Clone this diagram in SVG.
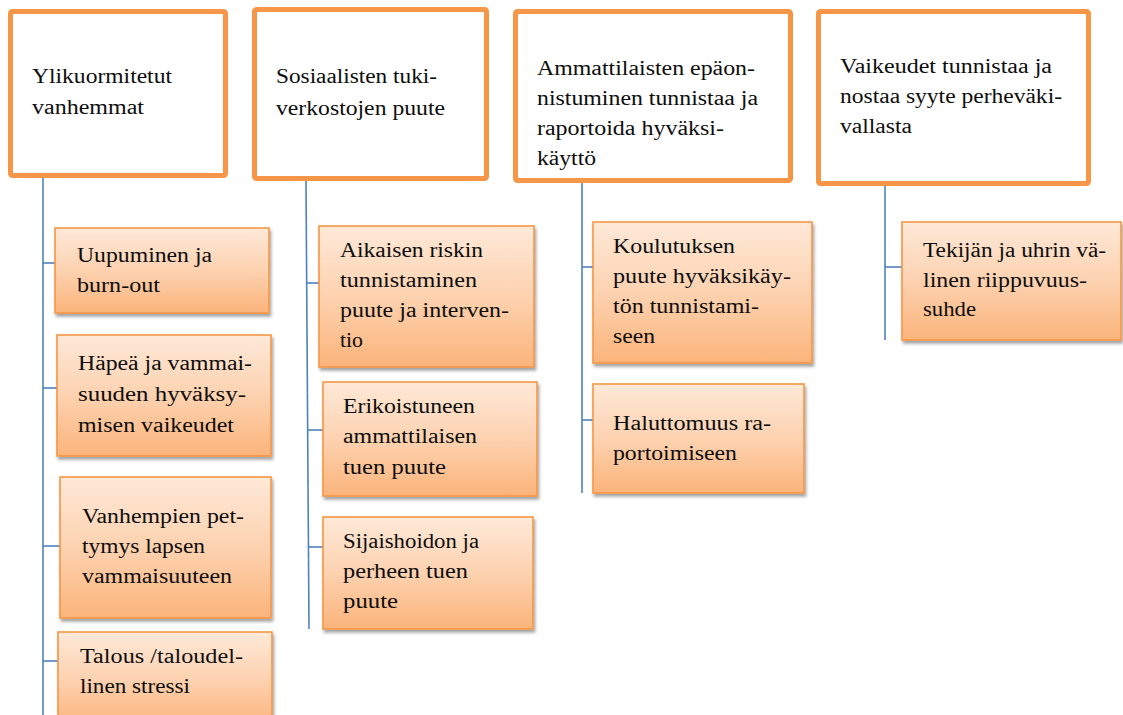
<svg xmlns="http://www.w3.org/2000/svg" width="1123" height="715" viewBox="0 0 1123 715">
<defs>
<linearGradient id="peach" x1="0" y1="0" x2="0" y2="1">
<stop offset="0" stop-color="#FEE9D8"/>
<stop offset="0.5" stop-color="#FDD2B0"/>
<stop offset="1" stop-color="#FBB47B"/>
</linearGradient>
<filter id="shadow" x="-10%" y="-10%" width="120%" height="130%">
<feDropShadow dx="1.5" dy="3" stdDeviation="1.8" flood-color="#000" flood-opacity="0.35"/>
</filter>
<style>
.top{fill:#fff;stroke:#F79646;stroke-width:5}
.child{fill:url(#peach);stroke:#F79646;stroke-width:1.6;filter:url(#shadow)}
.conn{stroke:#4F81BD;stroke-width:1.6;fill:none}
text{font-family:"Liberation Serif","DejaVu Serif",serif;font-size:20px;fill:#0d0d0d}
</style>
</defs>
<rect width="1123" height="715" fill="#fff"/>
<g id="connectors">
<line class="conn" x1="43" y1="178" x2="43" y2="715"/>
<line class="conn" x1="43" y1="263" x2="55" y2="263"/>
<line class="conn" x1="43" y1="388" x2="57" y2="388"/>
<line class="conn" x1="43" y1="546" x2="60" y2="546"/>
<line class="conn" x1="43" y1="661" x2="58" y2="661"/>
<line class="conn" x1="306" y1="181" x2="309" y2="629"/>
<line class="conn" x1="307" y1="283" x2="319" y2="283"/>
<line class="conn" x1="308" y1="430" x2="323" y2="430"/>
<line class="conn" x1="309" y1="547" x2="323" y2="547"/>
<line class="conn" x1="582" y1="183" x2="582" y2="493"/>
<line class="conn" x1="582" y1="267" x2="593" y2="267"/>
<line class="conn" x1="582" y1="420" x2="593" y2="420"/>
<line class="conn" x1="885" y1="186" x2="885" y2="340"/>
<line class="conn" x1="885" y1="267" x2="902" y2="267"/>
</g>
<g id="n1">
<rect class="top" x="10.5" y="11.5" width="215" height="164" rx="2"/>
<text x="32" y="83" textLength="140" lengthAdjust="spacingAndGlyphs">Ylikuormitetut</text>
<text x="32" y="114" textLength="112" lengthAdjust="spacingAndGlyphs">vanhemmat</text>
</g>
<g id="n2">
<rect class="top" x="254.5" y="9.5" width="232" height="169" rx="2"/>
<text x="276" y="83" textLength="161" lengthAdjust="spacingAndGlyphs">Sosiaalisten tuki-</text>
<text x="276" y="115" textLength="169" lengthAdjust="spacingAndGlyphs">verkostojen puute</text>
</g>
<g id="n3">
<rect class="top" x="515.5" y="11.5" width="275" height="169" rx="2"/>
<text x="537" y="75" textLength="218" lengthAdjust="spacingAndGlyphs">Ammattilaisten epäon-</text>
<text x="537" y="105" textLength="221" lengthAdjust="spacingAndGlyphs">nistuminen tunnistaa ja</text>
<text x="537" y="135" textLength="187" lengthAdjust="spacingAndGlyphs">raportoida hyväksi-</text>
<text x="537" y="165" textLength="59" lengthAdjust="spacingAndGlyphs">käyttö</text>
</g>
<g id="n4">
<rect class="top" x="818.5" y="11.5" width="270" height="172" rx="2"/>
<text x="840" y="73" textLength="212" lengthAdjust="spacingAndGlyphs">Vaikeudet tunnistaa ja</text>
<text x="840" y="103" textLength="222" lengthAdjust="spacingAndGlyphs">nostaa syyte perheväki-</text>
<text x="840" y="133" textLength="72" lengthAdjust="spacingAndGlyphs">vallasta</text>
</g>
<g id="c1a">
<rect class="child" x="55" y="228" width="214" height="85"/>
<text x="77" y="262" textLength="135" lengthAdjust="spacingAndGlyphs">Uupuminen ja</text>
<text x="77" y="292" textLength="83" lengthAdjust="spacingAndGlyphs">burn-out</text>
</g>
<g id="c1b">
<rect class="child" x="57" y="335" width="214" height="121"/>
<text x="78" y="370" textLength="174" lengthAdjust="spacingAndGlyphs">Häpeä ja vammai-</text>
<text x="78" y="401" textLength="168" lengthAdjust="spacingAndGlyphs">suuden hyväksy-</text>
<text x="78" y="432" textLength="156" lengthAdjust="spacingAndGlyphs">misen vaikeudet</text>
</g>
<g id="c1c">
<rect class="child" x="60" y="477" width="211" height="141"/>
<text x="82" y="523" textLength="162" lengthAdjust="spacingAndGlyphs">Vanhempien pet-</text>
<text x="82" y="553" textLength="123" lengthAdjust="spacingAndGlyphs">tymys lapsen</text>
<text x="82" y="583" textLength="150" lengthAdjust="spacingAndGlyphs">vammaisuuteen</text>
</g>
<g id="c1d">
<rect class="child" x="58" y="632" width="214" height="95"/>
<text x="80" y="663" textLength="163" lengthAdjust="spacingAndGlyphs">Talous /taloudel-</text>
<text x="80" y="693" textLength="110" lengthAdjust="spacingAndGlyphs">linen stressi</text>
</g>
<g id="c2a">
<rect class="child" x="319" y="226" width="215" height="141"/>
<text x="340" y="257" textLength="143" lengthAdjust="spacingAndGlyphs">Aikaisen riskin</text>
<text x="340" y="287" textLength="137" lengthAdjust="spacingAndGlyphs">tunnistaminen</text>
<text x="340" y="317" textLength="169" lengthAdjust="spacingAndGlyphs">puute ja interven-</text>
<text x="340" y="347" textLength="23" lengthAdjust="spacingAndGlyphs">tio</text>
</g>
<g id="c2b">
<rect class="child" x="323" y="382" width="214" height="114"/>
<text x="343" y="413" textLength="132" lengthAdjust="spacingAndGlyphs">Erikoistuneen</text>
<text x="343" y="443" textLength="134" lengthAdjust="spacingAndGlyphs">ammattilaisen</text>
<text x="343" y="474" textLength="103" lengthAdjust="spacingAndGlyphs">tuen puute</text>
</g>
<g id="c2c">
<rect class="child" x="323" y="517" width="210" height="112"/>
<text x="343" y="548" textLength="136" lengthAdjust="spacingAndGlyphs">Sijaishoidon ja</text>
<text x="343" y="578" textLength="125" lengthAdjust="spacingAndGlyphs">perheen tuen</text>
<text x="343" y="608" textLength="55" lengthAdjust="spacingAndGlyphs">puute</text>
</g>
<g id="c3a">
<rect class="child" x="593" y="222" width="219" height="141"/>
<text x="613" y="253" textLength="122" lengthAdjust="spacingAndGlyphs">Koulutuksen</text>
<text x="613" y="283" textLength="178" lengthAdjust="spacingAndGlyphs">puute hyväksikäy-</text>
<text x="613" y="313" textLength="146" lengthAdjust="spacingAndGlyphs">tön tunnistami-</text>
<text x="613" y="343" textLength="42" lengthAdjust="spacingAndGlyphs">seen</text>
</g>
<g id="c3b">
<rect class="child" x="593" y="384" width="211" height="109"/>
<text x="613" y="430" textLength="158" lengthAdjust="spacingAndGlyphs">Haluttomuus ra-</text>
<text x="613" y="460" textLength="124" lengthAdjust="spacingAndGlyphs">portoimiseen</text>
</g>
<g id="c4a">
<rect class="child" x="902" y="222" width="219" height="118"/>
<text x="923" y="257" textLength="183" lengthAdjust="spacingAndGlyphs">Tekijän ja uhrin vä-</text>
<text x="923" y="287" textLength="164" lengthAdjust="spacingAndGlyphs">linen riippuvuus-</text>
<text x="923" y="316" textLength="53" lengthAdjust="spacingAndGlyphs">suhde</text>
</g>
</svg>
